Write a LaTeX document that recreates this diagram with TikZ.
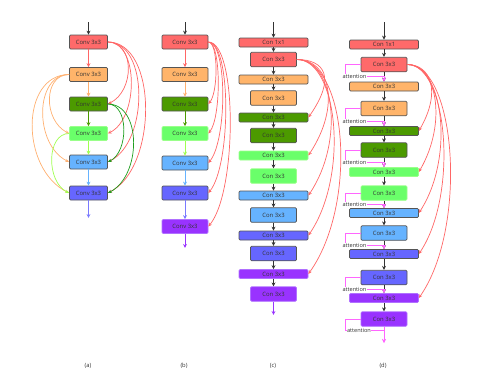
\documentclass[tikz,border=0pt]{standalone}
\usepackage{fontspec}
\setmainfont{Open Sans}
\usetikzlibrary{arrows.meta}
\definecolor{cRed}{HTML}{FF6A6A}
\definecolor{cOrange}{HTML}{FFB46A}
\definecolor{cDGreen}{HTML}{4C9A00}
\definecolor{cLGreen}{HTML}{6AFF6A}
\definecolor{cLGreenE}{HTML}{9AFF8A}
\definecolor{cLBlue}{HTML}{66B3FF}
\definecolor{cBlue}{HTML}{6666FF}
\definecolor{cPurple}{HTML}{9933FF}
\definecolor{cPurpleE}{HTML}{B070FF}
\definecolor{boxedge}{HTML}{555555}
\definecolor{dark}{HTML}{333333}
\definecolor{lnRed}{HTML}{FF6666}
\definecolor{lnOrange}{HTML}{FFB070}
\definecolor{lnGreen}{HTML}{1E9E1E}
\definecolor{lnLGreen}{HTML}{A0FF50}
\definecolor{lnBlue}{HTML}{7A7AFF}
\definecolor{cMag}{HTML}{FF66FF}
\tikzset{
  box/.style={draw=boxedge, line width=0.7pt, rounded corners=1.2pt, inner sep=0pt,
    font=\fontsize{5.9}{6}\selectfont, text=dark},
  wbox/.style={box, minimum width=69, minimum height=9},
  nbox/.style={box, minimum width=46, minimum height=14.5},
  abox/.style={box, minimum width=38, minimum height=14},
  bbox/.style={box, minimum width=46, minimum height=14},
  fr/.style={fill=cRed},
  fo/.style={fill=cOrange},
  fg/.style={fill=cDGreen},
  flg/.style={fill=cLGreen, draw=cLGreenE},
  flb/.style={fill=cLBlue},
  fb/.style={fill=cBlue},
  fp/.style={fill=cPurple, draw=cPurpleE},
  arr/.style={-{Stealth[length=4pt,width=3.8pt]}, line width=1pt},
  carr/.style={-{Stealth[length=3.8pt,width=3.2pt]}, line width=0.7pt},
  attarr/.style={cMag, line width=0.9pt, -{Stealth[length=4pt,width=3.8pt]}},
  attlabel/.style={font=\fontsize{5.6}{6}\selectfont, text=dark, fill=white, inner sep=0.4pt},
  capt/.style={font=\fontsize{5.8}{6}\selectfont, text=dark}
}
\begin{document}
\begin{tikzpicture}[x=1pt,y=-1pt]
\useasboundingbox (0,0) rectangle (500,386);
% ---------------- (a)
\coordinate (a0) at (88.5,22);
\node[abox,fr] (a1) at (88.5,42) {Conv 3x3};
\node[abox,fo] (a2) at (88.5,74.5) {Conv 3x3};
\node[abox,fg] (a3) at (88.5,104) {Conv 3x3};
\node[abox,flg] (a4) at (88.5,133.5) {Conv 3x3};
\node[abox,flb] (a5) at (88.5,162) {Conv 3x3};
\node[abox,fb] (a6) at (88.5,193) {Conv 3x3};
\coordinate (aout) at (88.5,218);
\draw[arr,dark] (a0) -- (a1);
\draw[arr,lnRed] (a1) -- (a2);
\draw[arr,lnOrange] (a2) -- (a3);
\draw[arr,cDGreen] (a3) -- (a4);
\draw[arr,lnLGreen] (a4) -- (a5);
\draw[arr,cLBlue] (a5) -- (a6);
\draw[arr,lnBlue] (a6) -- (aout);
\draw[carr,lnRed] (a1.east) .. controls +(27,0) and +(27,-13) .. (a3.east);
\draw[carr,lnRed] (a1.east) .. controls +(31,0) and +(31,-15) .. (a4.east);
\draw[carr,lnRed] (a1.east) .. controls +(41,0) and +(41,-20) .. (a5.east);
\draw[carr,lnRed] (a1.east) .. controls +(50,0) and +(50,-25) .. (a6.east);
\draw[carr,lnGreen] (a3.east) .. controls +(21,0) and +(21,-10) .. (a5.east);
\draw[carr,lnGreen] (a3.east) .. controls +(34,0) and +(34,-17) .. (a6.east);
\draw[carr,lnOrange] (a2.west) .. controls +(-26,0) and +(-26,-13) .. (a4.west);
\draw[carr,lnOrange] (a2.west) .. controls +(-35,0) and +(-35,-17) .. (a5.west);
\draw[carr,lnOrange] (a2.west) .. controls +(-49,0) and +(-49,-24) .. (a6.west);
\draw[carr,lnLGreen] (a4.west) .. controls +(-23,0) and +(-23,-11) .. (a6.west);
% ---------------- (b)
\coordinate (b0) at (185,22);
\node[bbox,fr] (b1) at (185,42) {Conv 3x3};
\node[bbox,fo] (b2) at (185,74.5) {Conv 3x3};
\node[bbox,fg] (b3) at (185,104) {Conv 3x3};
\node[bbox,flg] (b4) at (185,133.5) {Conv 3x3};
\node[bbox,flb] (b5) at (185,163) {Conv 3x3};
\node[bbox,fb] (b6) at (185,193) {Conv 3x3};
\node[bbox,fp] (b7) at (185,226.5) {Conv 3x3};
\coordinate (bout) at (185,248);
\draw[arr,dark] (b0) -- (b1);
\draw[arr,lnRed] (b1) -- (b2);
\draw[arr,lnOrange] (b2) -- (b3);
\draw[arr,cDGreen] (b3) -- (b4);
\draw[arr,lnLGreen] (b4) -- (b5);
\draw[arr,cLBlue] (b5) -- (b6);
\draw[arr,lnBlue] (b6) -- (b7);
\draw[arr,cPurple] (b7) -- (bout);
\draw[carr,lnRed] (b1.east) .. controls +(10,0) and +(10,-12) .. (b3.east);
\draw[carr,lnRed] (b1.east) .. controls +(13,0) and +(13,-16) .. (b4.east);
\draw[carr,lnRed] (b1.east) .. controls +(19,0) and +(19,-23) .. (b5.east);
\draw[carr,lnRed] (b1.east) .. controls +(23,0) and +(23,-28) .. (b6.east);
\draw[carr,lnRed] (b1.east) .. controls +(29,0) and +(29,-35) .. (b7.east);
% ---------------- (c)
\coordinate (c0) at (273.5,22);
\node[wbox,fr] (c1) at (273.5,42.5) {Con 1x1};
\node[nbox,fr] (c2) at (273.5,59.5) {Con 3x3};
\node[wbox,fo] (c3) at (273.5,79.5) {Con 3x3};
\node[nbox,fo] (c4) at (273.5,98) {Con 3x3};
\node[wbox,fg] (c5) at (273.5,117.5) {Con 3x3};
\node[nbox,fg] (c6) at (273.5,135.5) {Con 3x3};
\node[wbox,flg] (c7) at (273.5,155.5) {Con 3x3};
\node[nbox,flg] (c8) at (273.5,176) {Con 3x3};
\node[wbox,flb] (c9) at (273.5,195.5) {Con 3x3};
\node[nbox,flb] (c10) at (273.5,215) {Con 3x3};
\node[wbox,fb] (c11) at (273.5,235.5) {Con 3x3};
\node[nbox,fb] (c12) at (273.5,253.5) {Con 3x3};
\node[wbox,fp] (c13) at (273.5,274) {Con 3x3};
\node[nbox,fp] (c14) at (273.5,294) {Con 3x3};
\coordinate (cout) at (273.5,315);
\draw[arr,dark] (c0) -- (c1);
\foreach \i/\j in {1/2,2/3,3/4,4/5,5/6,6/7,7/8,8/9,9/10,10/11,11/12,12/13,13/14}
  \draw[arr,dark] (c\i) -- (c\j);
\draw[arr,cPurple] (c14) -- (cout);
\draw[carr,lnRed] (c2.east) .. controls +(28,0) and +(28,-40) .. (c5.east);
\draw[carr,lnRed] (c2.east) .. controls +(33,0) and +(33,-50) .. (c7.east);
\draw[carr,lnRed] (c2.east) .. controls +(37,0) and +(37,-55) .. (c9.east);
\draw[carr,lnRed] (c2.east) .. controls +(41,0) and +(41,-60) .. (c11.east);
\draw[carr,lnRed] (c2.east) .. controls +(50,0) and +(50,-70) .. (c13.east);
% ---------------- (d)
\coordinate (d0) at (384,22);
\node[wbox,fr] (d1) at (384,44.5) {Con 1x1};
\node[nbox,fr] (d2) at (384,64.5) {Con 3x3};
\node[wbox,fo] (d3) at (384,86.5) {Con 3x3};
\node[nbox,fo] (d4) at (384,108.5) {Con 3x3};
\node[wbox,fg] (d5) at (384,131) {Con 3x3};
\node[nbox,fg] (d6) at (384,150) {Con 3x3};
\node[wbox,flg] (d7) at (384,172) {Con 3x3};
\node[nbox,flg] (d8) at (384,193) {Con 3x3};
\node[wbox,flb] (d9) at (384,213) {Con 3x3};
\node[nbox,flb] (d10) at (384,233) {Con 3x3};
\node[wbox,fb] (d11) at (384,254) {Con 3x3};
\node[nbox,fb] (d12) at (384,277.5) {Con 3x3};
\node[wbox,fp] (d13) at (384,298) {Con 3x3};
\node[nbox,fp] (d14) at (384,319) {Con 3x3};
\coordinate (dout) at (384,343);
\draw[arr,dark] (d0) -- (d1);
\foreach \i/\j in {1/2,2/3,3/4,4/5,5/6,6/7,7/8,8/9,9/10,10/11,11/12,12/13,13/14}
  \draw[arr,dark] (d\i) -- (d\j);
\draw[carr,lnRed] (d2.east) .. controls +(23,0) and +(23,-40) .. (d5.east);
\draw[carr,lnRed] (d2.east) .. controls +(29,0) and +(29,-50) .. (d7.east);
\draw[carr,lnRed] (d2.east) .. controls +(36,0) and +(36,-55) .. (d9.east);
\draw[carr,lnRed] (d2.east) .. controls +(40,0) and +(40,-60) .. (d11.east);
\draw[carr,lnRed] (d2.east) .. controls +(49,0) and +(49,-70) .. (d13.east);
% attention
\coordinate (h1) at (384,76.5);
\coordinate (h2) at (384,121);
\coordinate (h3) at (384,162.5);
\coordinate (h4) at (384,204);
\coordinate (h5) at (384,245);
\coordinate (h6) at (384,289);
\coordinate (h7) at (384,330);
\draw[attarr] (d2.west) -- ++(-15,0) |- (h1) -- (d3.north);
\draw[attarr] (d4.west) -- ++(-15,0) |- (h2) -- (d5.north);
\draw[attarr] (d6.west) -- ++(-15,0) |- (h3) -- (d7.north);
\draw[attarr] (d8.west) -- ++(-15,0) |- (h4) -- (d9.north);
\draw[attarr] (d10.west) -- ++(-15,0) |- (h5) -- (d11.north);
\draw[attarr] (d12.west) -- ++(-15,0) |- (h6) -- (d13.north);
\draw[attarr] (d14.west) -- ++(-15,0) |- (h7) -- (dout);
\draw[attarr] (d14) -- (dout);
\node[attlabel] (t1) at (354.5,76.5) {attention};
\node[attlabel] (t2) at (354.5,121) {attention};
\node[attlabel] (t3) at (354.5,162.5) {attention};
\node[attlabel] (t4) at (354.5,204) {attention};
\node[attlabel] (t5) at (354.5,245) {attention};
\node[attlabel] (t6) at (354.5,289) {attention};
\node[attlabel] (t7) at (359,330) {attention};
% captions
\node[capt] (la) at (88,366) {(a)};
\node[capt] (lb) at (184,366) {(b)};
\node[capt] (lc) at (273,366) {(c)};
\node[capt] (ld) at (383,366) {(d)};
\end{tikzpicture}
\end{document}
